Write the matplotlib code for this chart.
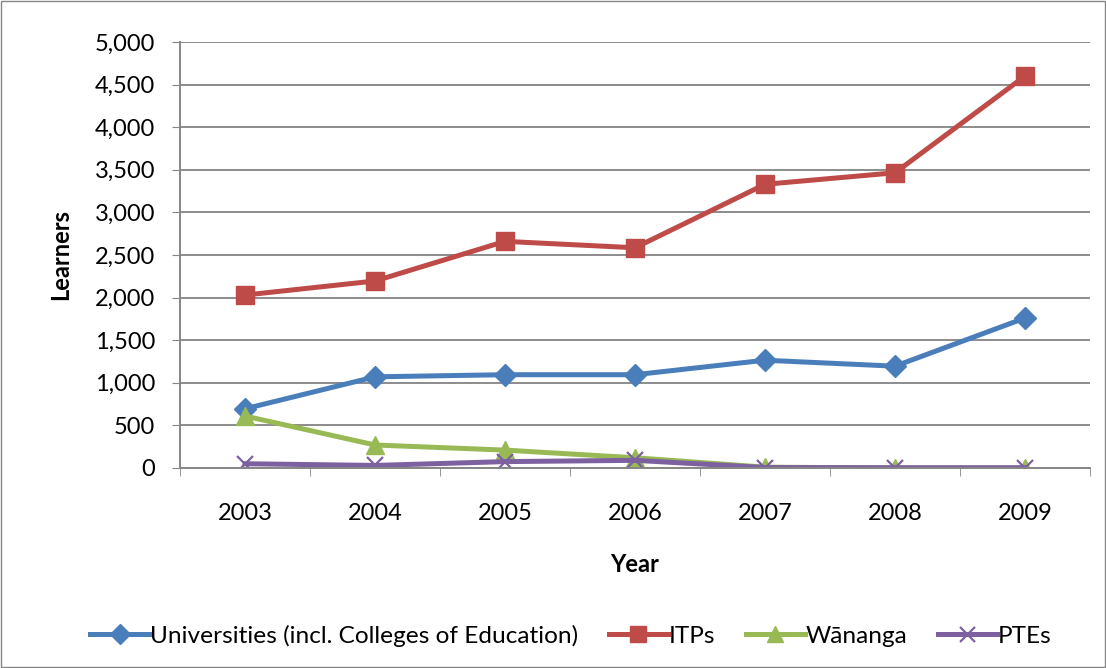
import numpy as np
import matplotlib.pyplot as plt
from matplotlib.patches import Rectangle

plt.rcParams['font.family'] = ['Lato', 'DejaVu Sans']

years = ['2003', '2004', '2005', '2006', '2007', '2008', '2009']
universities = [695, 1070, 1095, 1095, 1265, 1195, 1760]
itps = [2030, 2195, 2660, 2585, 3330, 3465, 4600]
wananga = [610, 270, 210, 120, 10, 0, 0]
ptes = [50, 30, 75, 90, 5, 3, 3]

series = [
    ('Universities (incl. Colleges of Education)', universities, '#4A7EBB', 'D', 11),
    ('ITPs', itps, '#BE4B48', 's', 12.5),
    ('W\u0101nanga', wananga, '#98B954', '^', 12.5),
    ('PTEs', ptes, '#7D60A0', 'x', 12),
]

fig = plt.figure(figsize=(11.06, 6.68), dpi=100)
ax = fig.add_axes([180 / 1106, 1 - 468 / 668, 910 / 1106, 426 / 668])

x = np.arange(len(years))
for name, vals, col, mk, ms in series:
    kw = dict(markeredgewidth=1.6) if mk == 'x' else dict(markeredgecolor=col)
    ax.plot(x, vals, color=col, lw=3.6, marker=mk, markersize=ms,
            markerfacecolor=col, label=name, **kw)

ax.set_xlim(-0.5, len(years) - 0.5)
ax.set_ylim(0, 5000)
ax.set_yticks(np.arange(0, 5001, 500))
ax.set_yticklabels([f'{v:,}' for v in range(0, 5001, 500)], fontsize=17)
ax.set_xticks(x)
ax.set_xticklabels(years, fontsize=17)
ax.set_xticks(np.arange(-0.5, len(years), 1), minor=True)
ax.tick_params(axis='x', which='major', length=0, pad=25)
ax.tick_params(axis='x', which='minor', length=6, color='#868686', direction='out')
ax.tick_params(axis='y', length=6, color='#868686', direction='out', pad=12)

ax.grid(axis='y', color='#8c8c8c', lw=1.4)
ax.set_axisbelow(True)
for s in ['top', 'right']:
    ax.spines[s].set_visible(False)
for s in ['left', 'bottom']:
    ax.spines[s].set_color('#868686')
    ax.spines[s].set_linewidth(1.4)

ax.set_xlabel('Year', fontsize=17, fontweight='bold')
ax.set_ylabel('Learners', fontsize=17, fontweight='bold')
ax.xaxis.set_label_coords(0.5, -0.2)
ax.yaxis.set_label_coords(-0.118, 0.5)

fig.legend(loc='center', bbox_to_anchor=(571 / 1106, 1 - 636 / 668), ncol=4,
           frameon=False, fontsize=17.6, handlelength=2.4, handletextpad=0.05,
           columnspacing=1.25, markerscale=0.9)

fig.patches.append(Rectangle((1 / 1106, 1 / 668), 1 - 2 / 1106, 1 - 2 / 668,
                             transform=fig.transFigure, fill=False,
                             edgecolor='#868686', lw=1))

fig.savefig('out.png', dpi=100)
